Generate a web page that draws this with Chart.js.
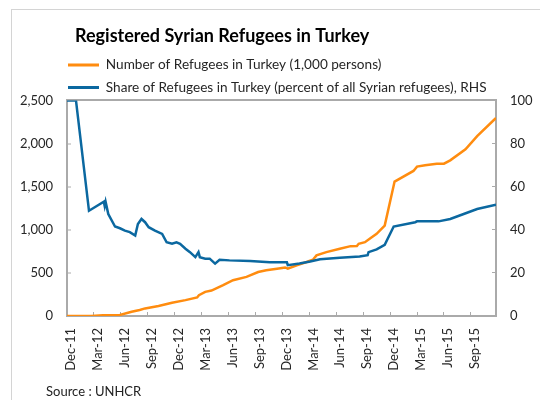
<!DOCTYPE html>
<html>
<head>
<meta charset="utf-8">
<script src="https://cdn.jsdelivr.net/npm/chart.js@4.4.1/dist/chart.umd.min.js"></script>
<style>
  html, body { margin: 0; padding: 0; background: #fff; }
  #wrap { position: relative; width: 540px; height: 400px; overflow: hidden; }
  #frame { position: absolute; left: 11px; top: 9px; width: 600px; height: 500px;
           border-left: 1px solid #d4d4d4; border-top: 1px solid #d4d4d4; }
  #chart { position: absolute; left: 0; top: 0; }
  #source { position: absolute; left: 46px; top: 383px; font: 13px Lato, sans-serif; color: #222; }
</style>
</head>
<body>
<div id="wrap">
  <div id="frame"></div>
  <canvas id="chart" width="540" height="400"></canvas>
  <div id="source">Source : UNHCR</div>
</div>
<script>
// months counted from Dec-11
const tickLabels = ['Dec-11', 'Mar-12', 'Jun-12', 'Sep-12', 'Dec-12', 'Mar-13', 'Jun-13', 'Sep-13',
                    'Dec-13', 'Mar-14', 'Jun-14', 'Sep-14', 'Dec-14', 'Mar-15', 'Jun-15', 'Sep-15'];

// number of refugees in Turkey, 1,000 persons
const refugeeMonth = [0, 2.7, 4.0, 5.9, 7.2, 8.1, 8.7, 10.2, 11.7, 13.2, 14.5, 14.7, 15.4, 16.1, 17.4,
                      18.5, 20.0, 21.3, 22.2, 23.4, 24.3, 24.6, 25.6, 26.7, 27.4, 27.8, 28.9, 30.4, 31.6,
                      32.3, 32.5, 33.2, 33.8, 34.5, 35.4, 36.5, 38.6, 39.0, 39.9, 41.2, 42.0, 42.7, 44.4,
                      45.7, 47.8];
const refugeeValues = [0, 0, 8, 12, 50, 69, 88, 115, 153, 184, 215, 242, 280, 295, 357,
                       415, 453, 510, 530, 549, 563, 549, 588, 626, 653, 703, 741, 780, 810,
                       812, 837, 856, 902, 952, 1048, 1559, 1682, 1732, 1748, 1766, 1766, 1805, 1932,
                       2085, 2296];

// share of all Syrian refugees, percent (RHS)
const shareMonth = [0, 1.0, 2.45, 4.1, 4.2, 4.3, 4.6, 5.35, 5.9, 6.45, 7.0, 7.6, 7.9, 8.3, 8.7, 9.1,
                    9.8, 10.6, 11.1, 11.7, 12.2, 12.6, 13.2, 13.7, 14.3, 14.65, 14.8, 15.4, 15.9, 16.5,
                    17.0, 18.1, 20.4, 22.6, 24.5, 24.6, 25.9, 27.1, 28.2, 30.4, 32.6, 33.5, 33.6, 34.5,
                    35.4, 36.4, 38.8, 39.0, 41.4, 42.7, 44.2, 45.7, 47.8];
const shareValues = [100, 100, 48.8, 53.0, 51.0, 53.0, 47.3, 41.5, 40.7, 39.6, 38.9, 37.3, 42.7, 45.0, 43.5, 41.2,
                     39.6, 38.1, 34.2, 33.5, 34.2, 33.5, 31.2, 29.6, 27.3, 29.6, 27.3, 26.6, 26.6, 24.3,
                     26.1, 25.8, 25.5, 24.9, 24.9, 23.6, 24.4, 25.3, 26.3, 27.0, 27.6, 28.2, 29.6, 30.9,
                     33.0, 41.5, 43.5, 43.9, 43.9, 45.0, 47.3, 49.6, 51.6];

const orange = '#FF8C0F';
const blue = '#0B68A0';
const axisGray = '#aaaaaa';
const textColor = '#262626';
const tickFont = { family: 'Lato', size: 13 };

// small position fixes after Chart.js has done its layout
const nudge = {
  id: 'nudge',
  afterLayout(chart) {
    chart.titleBlock.left += 64;
    chart.legend.left += 48;
    chart.legend.right += 48;
    chart.legend.top += 4;
    chart.legend.bottom += 4;
  }
};

new Chart(document.getElementById('chart'), {
  type: 'line',
  data: {
    datasets: [
      {
        label: 'Share of Refugees in Turkey (percent of all Syrian refugees), RHS',
        data: shareMonth.map((m, i) => ({ x: m, y: shareValues[i] })),
        borderColor: blue,
        backgroundColor: blue,
        borderWidth: 2.5,
        pointRadius: 0,
        tension: 0,
        yAxisID: 'y2'
      },
      {
        label: 'Number of Refugees in Turkey (1,000 persons)',
        data: refugeeMonth.map((m, i) => ({ x: m, y: refugeeValues[i] })),
        borderColor: orange,
        backgroundColor: orange,
        borderWidth: 2.5,
        pointRadius: 0,
        tension: 0,
        yAxisID: 'y'
      }
    ]
  },
  options: {
    responsive: false,
    animation: false,
    devicePixelRatio: 1,
    layout: { padding: { left: 11, right: 0, top: 0, bottom: 0 } },
    plugins: {
      title: {
        display: true,
        text: 'Registered Syrian Refugees in Turkey',
        align: 'start',
        color: '#000',
        font: { family: 'Lato', size: 18, weight: 'bold', lineHeight: 0.8 },
        padding: { top: 28.8, bottom: 2 }
      },
      legend: {
        display: true,
        position: 'top',
        align: 'start',
        labels: {
          color: textColor,
          font: { family: 'Lato', size: 13.6 },
          boxWidth: 31,
          boxHeight: 3,
          padding: 9,
          sort: (a, b) => b.datasetIndex - a.datasetIndex,
          generateLabels: chart => Chart.defaults.plugins.legend.labels.generateLabels(chart)
            .map(l => ({ ...l, lineWidth: 0 }))
        }
      },
      tooltip: { enabled: false }
    },
    scales: {
      x: {
        type: 'linear',
        min: 0,
        max: 47.8,
        border: { color: axisGray, width: 2 },
        grid: { drawOnChartArea: false, tickLength: -4, tickColor: axisGray, lineWidth: 1 },
        ticks: {
          stepSize: 3,
          includeBounds: false,
          autoSkip: false,
          minRotation: 90,
          maxRotation: 90,
          padding: 16,
          labelOffset: 4,
          color: textColor,
          font: tickFont,
          callback: v => tickLabels[Math.round(v / 3)] ?? ''
        },
        afterFit: s => { s.height = 84; }
      },
      y: {
        position: 'left',
        min: 0,
        max: 2500,
        border: { color: axisGray, width: 2 },
        grid: {
          color: c => (c.tick && c.tick.value === 2500 ? axisGray : 'rgba(0,0,0,0)'),
          lineWidth: 2,
          tickLength: -4,
          tickWidth: 1,
          tickColor: axisGray
        },
        ticks: { stepSize: 500, padding: 18, color: textColor, font: tickFont },
        afterFit: s => { s.width = 56; }
      },
      y2: {
        position: 'right',
        min: 0,
        max: 100,
        border: { color: axisGray, width: 2 },
        grid: { drawOnChartArea: false, tickLength: -4, tickWidth: 1, tickColor: axisGray },
        ticks: { stepSize: 20, padding: 18, color: textColor, font: tickFont },
        afterFit: s => { s.width = 44; }
      }
    }
  },
  plugins: [nudge]
});
</script>
</body>
</html>
